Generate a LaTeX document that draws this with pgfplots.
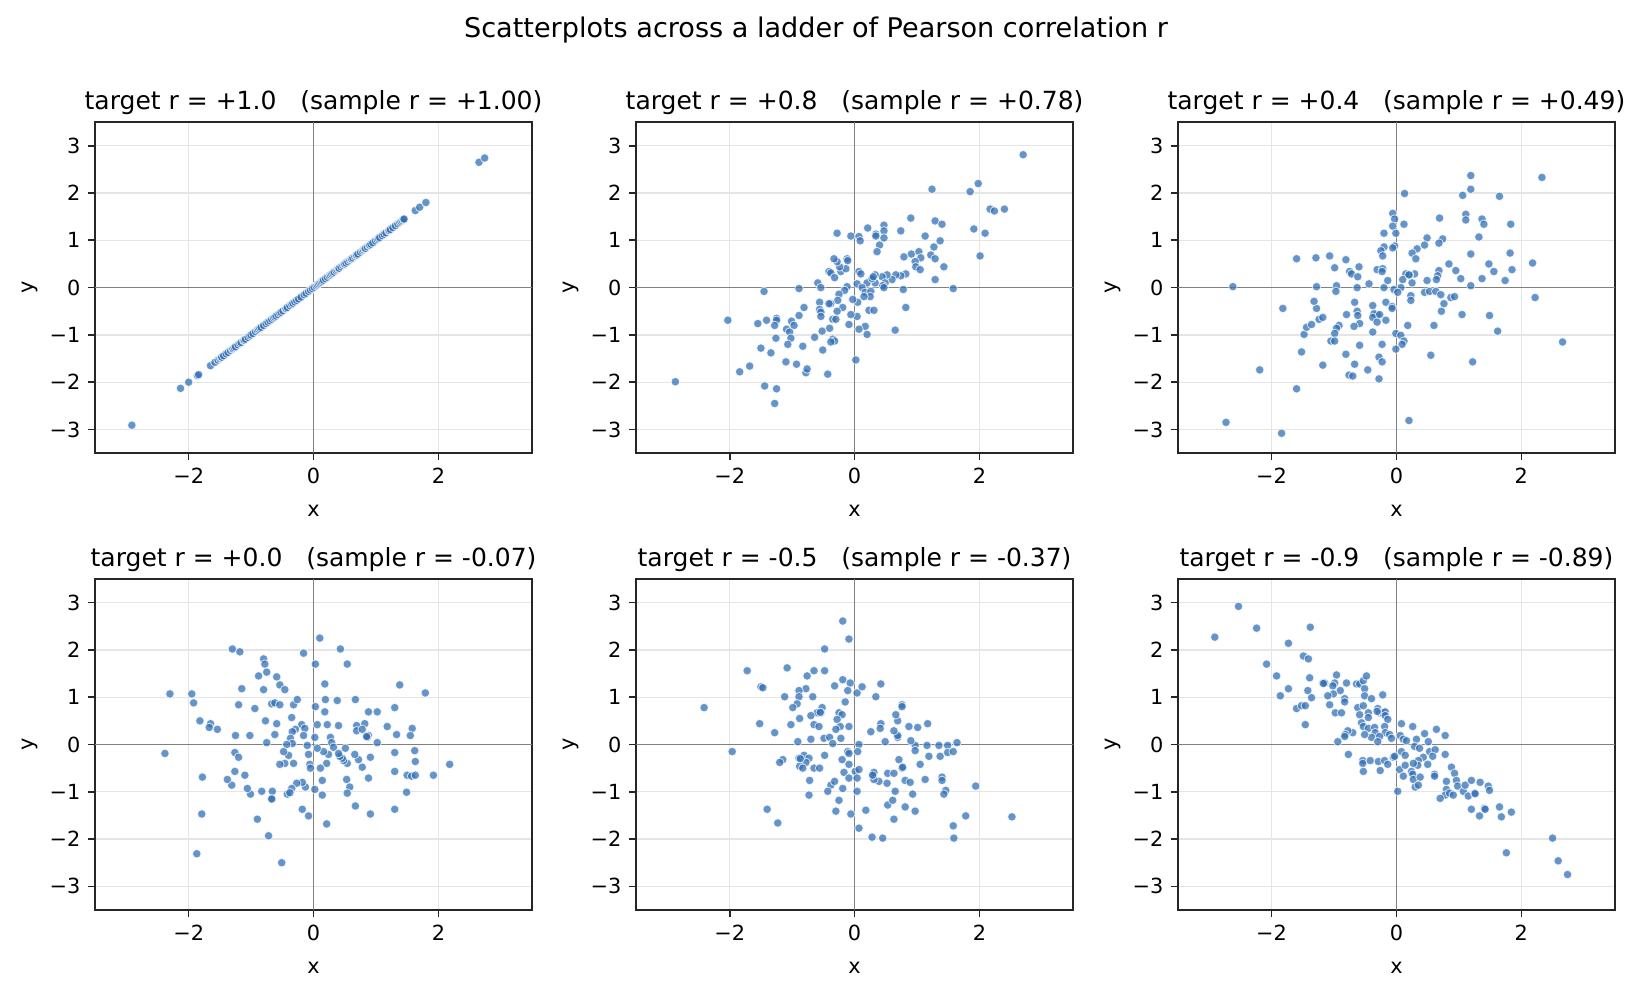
\documentclass[border=0pt]{standalone}
\usepackage{fontspec}
\setmainfont{DejaVu Sans}
\usepackage{pgfplots}
\pgfplotsset{compat=1.18}
\definecolor{dotblue}{RGB}{50,112,182}
\pgfplotsset{
  panel/.style={
    scale only axis, width=209.8pt, height=158.9pt,
    anchor=north west,
    xmin=-3.5,xmax=3.5,ymin=-3.5,ymax=3.5,
    xtick={-2,0,2}, xticklabels={−2,0,2},
    ytick={-3,-2,-1,0,1,2,3}, yticklabels={−3,−2,−1,0,1,2,3},
    tick pos=left, tick align=outside, major tick length=3.5pt,
    grid=major, grid style={black!10, line width=0.6pt},
    axis line style={line width=0.8pt, black!85},
    every tick/.style={black!85, line width=0.8pt},
    xlabel=x, ylabel=y,
    xlabel style={yshift=-3.5pt},
    ylabel style={yshift=-1pt},
    tick label style={font=\fontsize{10}{12}\selectfont},
    label style={font=\fontsize{10}{12}\selectfont},
    title style={font=\fontsize{12}{14}\selectfont, yshift=-6pt},
  },
  dots/.style={only marks, mark=*, mark size=2.05pt,
    mark options={fill=dotblue, fill opacity=0.75, draw=white, draw opacity=0.75, line width=0.4pt}},
  zero/.style={black!50, line width=0.5pt, forget plot},
}
\begin{document}
\begin{tikzpicture}
\useasboundingbox (0,0) rectangle (787.2pt,-477.6pt);
\node[font=\fontsize{13}{15}\selectfont] at (391.7pt,-14.5pt) {Scatterplots across a ladder of Pearson correlation r};

% Panel 1
\begin{axis}[panel, at={(45.6pt,-58.6pt)}, title={target r = +1.0\ \ \ (sample r = +1.00)}]
\addplot[zero] coordinates {(-3.5,0) (3.5,0)};
\addplot[zero] coordinates {(0,-3.5) (0,3.5)};
\addplot[dots] coordinates {
(-2.91,-2.91) (-2.13,-2.13) (-2.00,-2.00) (-1.86,-1.86) (-1.84,-1.84) (-1.65,-1.65)
(-1.58,-1.58) (-1.53,-1.53) (-1.50,-1.50) (-1.48,-1.48) (-1.47,-1.47) (-1.44,-1.44) (-1.40,-1.40)
(-1.37,-1.37) (-1.33,-1.33) (-1.30,-1.30) (-1.29,-1.29) (-1.27,-1.27) (-1.25,-1.25) (-1.21,-1.21)
(-1.18,-1.18) (-1.16,-1.16) (-1.12,-1.12) (-1.11,-1.11) (-1.09,-1.09) (-1.05,-1.05) (-1.02,-1.02)
(-1.00,-1.00) (-0.97,-0.97) (-0.93,-0.93) (-0.90,-0.90) (-0.88,-0.88) (-0.86,-0.86) (-0.84,-0.84)
(-0.80,-0.80) (-0.76,-0.76) (-0.73,-0.73) (-0.70,-0.70) (-0.67,-0.67) (-0.64,-0.64) (-0.62,-0.62)
(-0.60,-0.60) (-0.57,-0.57) (-0.54,-0.54) (-0.52,-0.52) (-0.49,-0.49) (-0.45,-0.45) (-0.44,-0.44)
(-0.42,-0.42) (-0.38,-0.38) (-0.35,-0.35) (-0.33,-0.33) (-0.30,-0.30) (-0.27,-0.27) (-0.24,-0.24)
(-0.20,-0.20) (-0.15,-0.15) (-0.12,-0.12) (-0.08,-0.08) (-0.05,-0.05) (-0.02,-0.02) (0.01,0.01)
(0.04,0.04) (0.06,0.06) (0.08,0.08) (0.10,0.10) (0.12,0.12) (0.14,0.14) (0.16,0.16) (0.19,0.19)
(0.22,0.22) (0.25,0.25) (0.27,0.27) (0.29,0.29) (0.31,0.31) (0.33,0.33) (0.36,0.36) (0.38,0.38)
(0.40,0.40) (0.41,0.41) (0.44,0.44) (0.47,0.47) (0.49,0.49) (0.50,0.50) (0.52,0.52) (0.55,0.55)
(0.58,0.58) (0.60,0.60) (0.61,0.61) (0.63,0.63) (0.66,0.66) (0.68,0.68) (0.69,0.69) (0.71,0.71)
(0.75,0.75) (0.78,0.78) (0.80,0.80) (0.82,0.82) (0.83,0.83) (0.86,0.86) (0.89,0.89) (0.90,0.90)
(0.92,0.92) (0.95,0.95) (0.99,0.99) (1.02,1.02) (1.04,1.04) (1.06,1.06) (1.10,1.10) (1.13,1.13)
(1.16,1.16) (1.20,1.20) (1.21,1.21) (1.23,1.23) (1.27,1.27) (1.31,1.31) (1.35,1.35) (1.38,1.38)
(1.40,1.40) (1.42,1.42) (1.44,1.44) (1.45,1.45) (1.63,1.63) (1.70,1.70) (1.80,1.80)
(2.65,2.65) (2.74,2.74)
};
\end{axis}

% Panel 2
\begin{axis}[panel, at={(305.3pt,-58.6pt)}, title={target r = +0.8\ \ \ (sample r = +0.78)}]
\addplot[zero] coordinates {(-3.5,0) (3.5,0)};
\addplot[zero] coordinates {(0,-3.5) (0,3.5)};
\addplot[dots] coordinates {
(2.70,2.81) (1.24,2.08) (1.98,2.20) (1.85,2.03) (2.17,1.66) (2.24,1.62) (2.40,1.66) (0.90,1.47)
(1.29,1.41) (1.40,1.34) (1.91,1.24) (2.09,1.15) (2.01,0.67) (-0.28,1.15) (-0.06,1.09) (0.07,1.08)
(0.09,0.99) (0.21,1.26) (0.47,1.32) (0.47,1.20) (0.34,1.13) (0.34,1.09) (0.47,1.05) (0.40,0.90)
(0.36,0.76) (0.74,1.20) (1.13,1.09) (1.37,0.99) (1.27,0.86) (1.22,0.69) (1.29,0.61) (1.43,0.44)
(1.29,0.17) (1.58,-0.02) (0.79,0.65) (0.91,0.71) (1.03,0.76) (1.06,0.63) (0.97,0.55) (0.98,0.44)
(1.05,0.38) (0.82,0.29) (0.74,0.25) (0.66,0.27) (0.60,0.17) (0.52,0.27) (0.44,0.23) (0.49,0.10)
(0.45,0.04) (0.47,0.00) (0.33,0.27) (0.29,0.19) (0.33,0.10) (0.20,0.10) (0.07,0.34) (0.10,0.29)
(0.04,0.08) (0.12,0.00) (0.17,-0.10) (0.26,-0.08) (0.25,-0.19) (0.15,-0.19) (0.78,-0.04) (0.82,-0.42)
(0.23,-0.48) (0.31,-0.48) (0.05,-0.31) (0.04,-0.61) (0.17,-0.82) (0.07,-0.88) (0.20,-0.99) (0.65,-0.90)
(0.02,-1.53) (-0.12,0.02) (-0.16,-0.06) (-0.03,-0.25) (-0.06,-0.57) (-0.09,-0.78) (-0.25,-0.14) (-0.27,-0.27)
(-0.38,-0.34) (-0.41,-0.34) (-0.19,-0.42) (-0.28,-0.50) (-0.35,-0.67) (-0.30,-0.67) (-0.40,-0.86) (-0.35,-1.09)
(-0.32,-1.13) (-0.38,-1.15) (-0.51,-1.32) (-0.43,-1.83) (-0.52,-0.92) (-0.64,-1.05) (-0.56,-0.31) (-0.56,-0.46)
(-0.54,-0.52) (-0.54,-0.61) (-0.59,0.10) (-0.54,0.00) (-0.41,0.34) (-0.38,0.31) (-0.32,0.21) (-0.22,0.34)
(-0.14,0.40) (-0.24,0.44) (-0.28,0.55) (-0.33,0.61) (-0.12,0.61) (-0.11,0.57) (-0.89,-0.02) (-1.45,-0.08)
(-0.81,-0.42) (-0.89,-0.59) (-1.01,-0.71) (-0.97,-0.80) (-1.09,-0.88) (-1.04,-0.94) (-1.02,-1.07) (-1.07,-1.20)
(-0.83,-1.24) (-1.10,-1.57) (-0.93,-1.62) (-0.78,-1.80) (-0.76,-1.72) (-1.25,-0.65) (-1.25,-0.69) (-1.28,-0.80)
(-1.41,-0.69) (-1.55,-0.76) (-1.26,-1.07) (-1.50,-1.28) (-1.34,-1.38) (-1.68,-1.66) (-1.84,-1.78) (-2.03,-0.69)
(-2.87,-1.99) (-1.44,-2.08) (-1.25,-2.14) (-1.28,-2.45) (0.28,0.19) (0.30,0.23)
};
\end{axis}

% Panel 3
\begin{axis}[panel, at={(565.4pt,-58.6pt)}, title={target r = +0.4\ \ \ (sample r = +0.49)}]
\addplot[zero] coordinates {(-3.5,0) (3.5,0)};
\addplot[zero] coordinates {(0,-3.5) (0,3.5)};
\addplot[dots] coordinates {
(2.33,2.33) (1.19,2.37) (1.19,2.08) (1.06,1.95) (1.65,1.93) (0.13,1.99) (-0.06,1.57) (-0.03,1.45)
(-0.06,1.30) (0.12,1.34) (-0.01,1.15) (-0.20,1.15) (0.69,1.47) (1.11,1.55) (1.11,1.43) (1.37,1.45)
(1.40,1.34) (1.83,1.34) (1.32,1.07) (0.49,1.05) (0.74,1.03) (0.68,0.94) (0.45,0.90) (0.33,0.82)
(0.25,0.73) (0.31,0.61) (-0.03,0.88) (-0.06,0.84) (-0.20,0.86) (-0.25,0.78) (-0.22,0.67) (1.19,0.71)
(1.82,0.73) (2.18,0.52) (1.85,0.38) (1.74,0.15) (1.48,0.50) (1.56,0.34) (1.37,0.19) (0.84,0.50)
(0.95,0.36) (1.03,0.19) (1.19,0.04) (0.68,0.36) (0.66,0.25) (0.64,0.17) (0.49,0.15) (0.29,0.29)
(0.21,0.27) (0.15,0.29) (0.10,0.17) (0.25,0.10) (0.07,0.00) (-0.04,-0.04) (0.02,-0.10) (-0.20,0.00)
(0.23,-0.17) (0.23,-0.27) (0.45,-0.10) (0.53,-0.08) (0.63,-0.08) (0.71,-0.15) (0.87,-0.21) (0.93,-0.19)
(0.76,-0.34) (0.72,-0.50) (1.05,-0.57) (1.49,-0.59) (1.62,-0.92) (2.22,-0.21) (2.66,-1.15) (1.22,-1.57)
(0.55,-1.43) (0.60,-0.80) (0.18,-0.80) (-0.01,-0.97) (0.07,-1.01) (0.12,-1.13) (0.09,-1.20) (-0.01,-1.30)
(0.20,-2.81) (-0.17,-0.31) (-0.07,-0.40) (-0.07,-0.44) (-0.17,-0.69) (-0.31,-0.57) (-0.36,-0.55) (-0.38,-0.63)
(-0.27,-0.57) (-0.31,-0.73) (-0.38,-0.94) (-0.23,-1.20) (-0.28,-1.47) (-0.23,-1.57) (-0.28,-1.93) (-0.46,-1.74)
(-0.38,-0.38) (-0.67,-0.31) (-0.63,-0.50) (-0.62,-0.59) (-0.80,-0.57) (-0.59,-0.76) (-0.68,-0.82) (-0.59,-1.22)
(-0.67,-1.62) (-0.76,-1.85) (-0.70,-1.87) (-0.81,-1.41) (-0.92,-0.80) (-0.96,-0.86) (-0.99,-0.97) (-1.05,-1.13)
(-0.99,-1.13) (-1.18,-1.64) (-1.52,-1.36) (-1.48,-0.99) (-1.44,-0.84) (-1.36,-0.78) (-1.24,-0.67) (-1.18,-0.63)
(-1.28,-0.44) (-1.32,-0.29) (-1.82,-0.44) (-2.19,-1.74) (-1.60,-2.14) (-2.73,-2.85) (-1.84,-3.08) (-2.62,0.02)
(-1.60,0.61) (-1.29,0.63) (-1.07,0.67) (-0.81,0.59) (-0.99,0.42) (-0.75,0.34) (-0.72,0.29) (-0.62,0.23)
(-0.60,0.44) (-0.31,0.38) (-0.22,0.40) (-0.23,0.34) (-0.44,0.08) (-0.63,0.00) (-0.96,0.04) (-0.97,-0.08)
(-1.28,0.02) (-0.14,0.15) (0.20,0.27)
};
\end{axis}

% Panel 4
\begin{axis}[panel, at={(45.6pt,-277.9pt)}, title={target r = +0.0\ \ \ (sample r = -0.07)}]
\addplot[zero] coordinates {(-3.5,0) (3.5,0)};
\addplot[zero] coordinates {(0,-3.5) (0,3.5)};
\addplot[dots] coordinates {
(0.10,2.25) (0.43,2.02) (-0.16,1.93) (0.03,1.70) (0.54,1.70) (-1.30,2.02) (-1.18,1.96) (-0.80,1.81)
(-0.78,1.70) (-0.75,1.53) (-0.88,1.45) (-0.59,1.43) (-0.54,1.26) (-0.46,1.16) (-0.80,1.16) (-1.15,1.18)
(0.18,1.28) (1.38,1.26) (1.79,1.09) (-2.30,1.07) (-1.95,1.07) (-1.92,0.88) (-1.20,0.84) (-0.94,0.76)
(-0.67,0.86) (-0.62,0.88) (-0.54,0.84) (-0.32,0.84) (-0.26,0.95) (0.19,0.95) (0.38,0.93) (0.67,0.95)
(0.03,0.80) (0.18,0.69) (0.88,0.69) (1.02,0.69) (1.30,0.78) (-0.35,0.57) (-0.77,0.50) (-0.59,0.44)
(-1.82,0.50) (-1.65,0.44) (-1.67,0.36) (-1.54,0.32) (-1.25,0.19) (-1.02,0.19) (-0.62,0.21) (-0.75,0.04)
(-0.19,0.42) (-0.14,0.34) (-0.29,0.32) (-0.34,0.27) (-0.16,0.19) (-0.37,0.13) (-0.34,0.02) (-0.43,0.00)
(-0.10,-0.02) (0.02,0.15) (0.06,0.42) (0.22,0.42) (0.40,0.40) (0.27,0.15) (0.29,0.04) (0.32,-0.06)
(0.69,0.40) (0.82,0.44) (0.69,0.29) (0.78,0.32) (0.88,0.19) (0.86,0.15) (1.02,0.04) (1.18,0.38)
(1.33,0.21) (1.58,0.34) (1.55,0.19) (1.62,-0.13) (1.63,-0.36) (1.30,-0.17) (1.30,-0.57) (1.50,-0.65)
(1.57,-0.67) (1.63,-0.65) (1.92,-0.65) (2.18,-0.42) (1.49,-1.01) (1.30,-1.37) (0.91,-1.47) (0.67,-1.30)
(0.88,-0.71) (0.78,-0.48) (0.91,-0.27) (0.72,-0.32) (0.66,-0.21) (0.51,-0.08) (0.54,-0.40) (0.48,-0.34)
(0.46,-0.29) (0.42,-0.25) (0.40,-0.19) (0.53,-0.74) (0.58,-0.90) (0.54,-1.03) (0.24,-0.21) (0.16,-0.15)
(0.06,-0.08) (0.21,-0.40) (0.11,-0.50) (0.14,-0.76) (0.14,-1.07) (0.21,-1.68) (-0.08,-0.21) (-0.06,-0.42)
(-0.05,-0.50) (0.02,-0.95) (-0.13,-0.90) (-0.18,-0.80) (-0.27,-0.82) (-0.35,-0.93) (-0.42,-1.05) (-0.18,-1.37)
(-0.08,-1.51) (-0.32,-0.40) (-0.46,-0.40) (-0.54,-0.42) (-0.40,-0.23) (-0.48,-0.15) (-0.66,-0.99) (-0.67,-1.16)
(-0.83,-0.99) (-1.01,-1.05) (-1.06,-0.93) (-1.10,-0.65) (-1.26,-0.57) (-1.31,-0.86) (-1.38,-0.74) (-1.26,-0.17)
(-1.20,-0.27) (-1.78,-0.69) (-1.79,-1.47) (-1.87,-2.31) (-2.38,-0.19) (-0.90,-1.58) (-0.72,-1.93) (-0.51,-2.50)
(-0.38,-1.02) (0.85,0.17) (-0.67,-1.15)
};
\end{axis}

% Panel 5
\begin{axis}[panel, at={(305.3pt,-277.9pt)}, title={target r = -0.5\ \ \ (sample r = -0.37)}]
\addplot[zero] coordinates {(-3.5,0) (3.5,0)};
\addplot[zero] coordinates {(0,-3.5) (0,3.5)};
\addplot[dots] coordinates {
(-0.19,2.61) (-0.09,2.23) (-0.48,2.02) (-1.72,1.56) (-1.08,1.62) (-0.65,1.56) (-0.48,1.56) (-0.76,1.45)
(-1.50,1.22) (-1.47,1.20) (-0.78,1.18) (-0.89,1.14) (-1.12,1.01) (-0.89,1.01) (-0.67,1.01) (-0.92,0.86)
(-0.99,0.78) (-0.32,1.24) (-0.19,1.37) (-0.07,1.30) (-0.11,1.14) (0.04,1.09) (0.12,1.22) (0.42,1.28)
(0.34,1.01) (-0.15,0.90) (-0.52,0.78) (-0.54,0.67) (-0.60,0.67) (-0.70,0.61) (-0.25,0.67) (-0.20,0.63)
(-0.28,0.53) (-0.23,0.38) (-0.30,0.32) (-0.09,0.38) (-0.88,0.55) (-0.65,0.42) (-0.57,0.38) (-1.02,0.42)
(-1.52,0.44) (-1.28,0.25) (-2.41,0.78) (-1.96,-0.15) (-0.91,0.06) (-0.70,0.11) (-0.49,0.13) (-0.40,0.15)
(-0.35,0.02) (-0.22,0.13) (0.07,0.00) (0.05,-0.15) (-0.11,-0.15) (-0.09,-0.19) (-0.48,-0.23) (-0.20,-0.32)
(-0.09,-0.42) (-0.89,-0.29) (-0.81,-0.23) (-0.73,-0.29) (-0.78,-0.38) (-0.88,-0.46) (-0.83,-0.50) (-0.65,-0.50)
(-0.56,-0.50) (-1.15,-0.32) (-1.20,-0.38) (-0.72,-0.76) (-0.73,-1.07) (-1.40,-1.37) (-1.23,-1.66) (-0.38,-0.86)
(-0.32,-0.78) (-0.43,-0.99) (-0.19,-0.93) (-0.17,-0.59) (-0.09,-0.71) (0.01,-0.57) (0.07,-0.53) (0.04,-0.71)
(0.04,-0.99) (-0.25,-1.18) (-0.30,-1.41) (-0.06,-1.47) (0.07,-1.77) (0.18,-1.39) (0.28,-1.96) (0.45,-1.98)
(0.63,-1.58) (0.53,-1.28) (0.61,-1.18) (0.65,-0.99) (0.52,-0.82) (0.39,-0.78) (0.31,-0.74) (0.29,-0.63)
(0.31,-0.59) (0.53,-0.61) (0.63,-0.61) (0.76,-0.50) (0.77,-0.48) (0.71,-0.32) (0.81,-0.76) (0.89,-0.80)
(0.93,-1.05) (0.81,-1.32) (0.97,-1.41) (1.05,-0.42) (1.13,-0.74) (1.19,-0.25) (1.37,-0.25) (1.16,-0.02)
(1.35,-0.02) (1.49,-0.02) (1.64,0.04) (1.49,-0.17) (1.58,-0.15) (0.97,-0.02) (0.97,-0.13) (0.90,0.08)
(0.69,0.15) (0.69,0.19) (0.63,0.29) (0.87,0.38) (1.01,0.36) (1.17,0.44) (0.69,0.50) (0.66,0.63)
(0.76,0.84) (0.76,0.80) (0.42,0.44) (0.41,0.34) (0.26,0.27) (0.49,0.06) (1.40,-0.69) (1.40,-0.76)
(1.46,-0.97) (1.43,-1.05) (1.94,-0.88) (1.78,-1.51) (1.58,-1.72) (1.59,-1.98) (2.52,-1.53) (0.29,-0.65)
(-0.87,-0.30) (-0.55,0.68)
};
\end{axis}

% Panel 6
\begin{axis}[panel, at={(565.4pt,-277.9pt)}, title={target r = -0.9\ \ \ (sample r = -0.89)}]
\addplot[zero] coordinates {(-3.5,0) (3.5,0)};
\addplot[zero] coordinates {(0,-3.5) (0,3.5)};
\addplot[dots] coordinates {
(-2.53,2.92) (-2.91,2.27) (-2.24,2.46) (-1.38,2.48) (-1.73,2.14) (-1.49,1.87) (-1.41,1.81) (-2.08,1.70)
(-1.92,1.45) (-1.39,1.41) (-1.73,1.18) (-1.86,1.03) (-1.42,1.14) (-1.36,0.99) (-1.60,0.76) (-1.52,0.82)
(-1.46,0.82) (-1.46,0.42) (-1.18,1.30) (-1.15,1.30) (-0.96,1.47) (-0.99,1.30) (-1.02,1.24) (-0.80,1.30)
(-0.90,1.14) (-1.01,1.07) (-1.10,1.03) (-0.83,0.97) (-0.83,0.90) (-1.07,0.84) (-0.98,0.67) (-0.88,0.67)
(-0.64,1.28) (-0.59,1.28) (-0.53,1.35) (-0.48,1.45) (-0.51,1.18) (-0.51,1.03) (-0.40,0.97) (-0.22,1.05)
(-0.62,0.78) (-0.53,0.82) (-0.45,0.67) (-0.59,0.63) (-0.45,0.57) (-0.30,0.76) (-0.27,0.67) (-0.22,0.67)
(-0.18,0.69) (-0.18,0.61) (-0.14,0.53) (-0.56,0.46) (-0.53,0.38) (-0.45,0.34) (-0.35,0.36) (-0.19,0.38)
(-0.34,0.25) (-0.18,0.25) (-0.11,0.21) (-0.08,0.13) (-0.27,0.17) (-0.40,0.15) (-0.30,0.06) (-0.51,0.21)
(-0.70,0.25) (-0.78,0.29) (-0.82,0.21) (-0.83,0.17) (-0.94,0.06) (-0.77,-0.21) (-0.54,-0.34) (-0.54,-0.40)
(-0.42,-0.34) (-0.53,-0.57) (-0.29,-0.36) (-0.26,-0.55) (-0.19,-0.34) (-0.14,-0.42) (-0.05,-0.27) (-0.03,-0.25)
(0.08,0.44) (0.26,0.38) (0.45,0.23) (0.64,0.32) (0.78,0.19) (0.06,0.19) (0.11,0.11) (0.16,0.08)
(0.32,0.11) (0.51,0.06) (0.29,-0.04) (0.37,-0.08) (0.08,-0.15) (0.14,-0.23) (0.53,-0.15) (0.62,-0.11)
(0.58,-0.25) (0.43,-0.27) (0.35,-0.34) (0.34,-0.44) (0.27,-0.40) (0.50,-0.42) (0.78,-0.21) (0.05,-0.53)
(0.14,-0.44) (0.24,-0.57) (0.26,-0.63) (0.11,-0.67) (0.27,-0.74) (0.38,-0.69) (0.30,-0.90) (0.35,-0.86)
(0.61,-0.63) (0.61,-0.67) (0.02,-0.99) (0.88,-0.48) (0.93,-0.61) (0.96,-0.76) (0.80,-0.78) (0.98,-0.88)
(0.80,-0.95) (0.78,-1.07) (0.85,-1.03) (0.91,-1.07) (0.70,-1.14) (1.07,-0.99) (1.10,-0.86) (1.20,-0.76)
(1.15,-1.09) (1.25,-1.03) (1.34,-0.80) (1.47,-0.88) (1.49,-0.97) (1.20,-1.37) (1.33,-1.51) (1.41,-1.35)
(1.42,-1.37) (1.65,-1.32) (1.68,-1.53) (1.84,-1.43) (1.76,-2.29) (2.50,-1.98) (2.59,-2.46) (2.74,-2.75)
(1.26,-1.04) (-1.17,1.29) (-0.31,0.70)
};
\end{axis}
\end{tikzpicture}
\end{document}
